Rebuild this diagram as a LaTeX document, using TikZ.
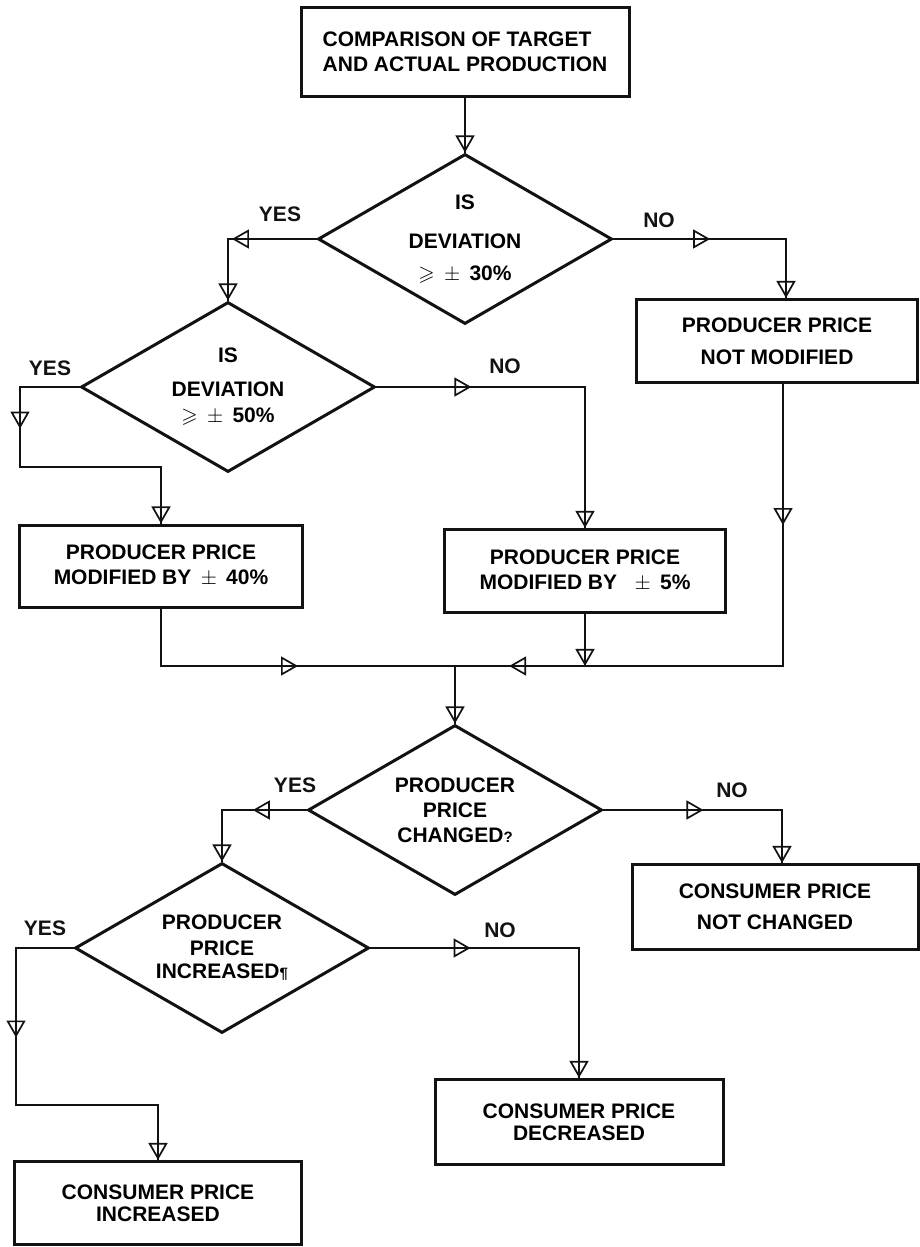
\documentclass[tikz,border=0pt]{standalone}
\usepackage{fontspec}
\setmainfont{Liberation Sans}
\usepackage{amssymb}
\usetikzlibrary{shapes.geometric,arrows.meta,decorations.markings}
\usepackage{xcolor}
\definecolor{ink}{RGB}{18,18,18}

\tikzset{
  chartfont/.style={font=\fontsize{21}{22}\selectfont\bfseries},
  box/.style={draw=ink,line width=3pt,minimum width=#1,minimum height=84pt,
    inner sep=0pt,align=center,chartfont},
  box/.default=284pt,
  decision/.style={diamond,draw=ink,line width=3pt,aspect=1.73,
    minimum width=294pt,minimum height=170pt,inner sep=0pt,align=center,chartfont},
  answer/.style={text=ink,inner sep=0pt,chartfont},
  flow/.style={draw=ink,line width=1.7pt,line cap=rect},
  tipat/.style={postaction={decorate,decoration={markings,
    mark=at position #1 with {\arrow{>}}}}}
}

\begin{document}
\begin{tikzpicture}[x=1pt,y=-1pt,
  >={Triangle[open,length=17pt,width=19pt,line width=1.7pt]}]
  % --- canvas ---
  \fill[white] (0,0) rectangle (919,1247);
  \useasboundingbox (0,0) rectangle (919,1247);

  % --- boxes ---
  \node[box=328pt,minimum height=89pt,align=left] (start) at (465,52)
    {COMPARISON OF TARGET\\[3pt]AND ACTUAL PRODUCTION};
  \node[box=281pt,minimum height=83pt] (keep) at (777,341)
    {PRODUCER PRICE\\[10pt]NOT MODIFIED};
  \node[box=283pt,minimum height=82pt] (mod40) at (161,566)
    {PRODUCER PRICE\\[3pt]MODIFIED BY \,$\pm$\, 40\%};
  \node[box=281pt,minimum height=83pt] (mod5) at (585,571)
    {PRODUCER PRICE\\[3pt]MODIFIED BY \ \ $\pm$\, 5\%};
  \node[box=286pt,minimum height=85pt] (same) at (775,907)
    {CONSUMER PRICE\\[9pt]NOT CHANGED};
  \node[box=287pt,minimum height=83pt] (up) at (158,1203)
    {CONSUMER PRICE\\INCREASED};
  \node[box=288pt,minimum height=85pt] (down) at (579,1122)
    {CONSUMER PRICE\\DECREASED};

  % --- decisions ---
  \node[decision] (dev30) at (465,239)
    {IS\\[17pt]DEVIATION\\[10pt]$\geqslant$ \,$\pm$\, 30\%};
  \node[decision] (dev50) at (228,387)
    {IS\\[12pt]DEVIATION\\[4pt]$\geqslant$ \,$\pm$\, 50\%};
  \node[decision] (chg) at (455,810)
    {PRODUCER\\[3pt]PRICE\\[3pt]CHANGED{\fontsize{15}{15}\selectfont ?}};
  \node[decision] (inc) at (222,948)
    {PRODUCER\\[4pt]PRICE\\[1pt]INCREASED{\fontsize{15}{15}\selectfont ¶}};

  % --- yes / no labels ---
  \foreach \nm/\x/\y/\txt in {yesA/280/214/YES, noA/659/220/NO,
      yesB/50/368/YES, noB/505/366/NO, yesC/295/785/YES,
      noC/732/790/NO, yesD/45/928/YES, noD/500/930/NO}{
    \node[answer] (\nm) at (\x,\y) {\txt};
  }

  % --- bends ---
  \coordinate (c30w) at (dev50.north |- dev30.west);
  \coordinate (c30e) at (786,239);
  \coordinate (c50w) at (20,387);
  \coordinate (c50s) at (20,467);
  \coordinate (c50e) at (mod5.north |- dev50.east);
  \coordinate (mrgE) at (783,666);
  \coordinate (mrg) at (chg.north |- mrgE);
  \coordinate (cchgE) at (782,810);
  \coordinate (cchgW) at (inc.north |- chg.west);
  \coordinate (cincW) at (16,948);
  \coordinate (cincS) at (16,1105);
  \coordinate (cincE) at (down.north |- inc.east);

  % --- first test ---
  \draw[flow,tipat=0.999] (start.south) -- (dev30.north);
  \draw[flow,tipat=0.955] (dev30.west) -- (c30w);
  \draw[flow,tipat=0.999] (c30w) -- (dev50.north);
  \draw[flow,tipat=0.56] (dev30.east) -- (c30e);
  \draw[flow,tipat=0.999] (c30e) -- (keep.north -| c30e);

  % --- second test ---
  \draw[flow] (dev50.west) -- (c50w);
  \draw[flow,tipat=0.52] (c50w) -- (c50s);
  \draw[flow] (c50s) -- (mod40.north |- c50s);
  \draw[flow,tipat=0.999] (mod40.north |- c50s) -- (mod40.north);
  \draw[flow,tipat=0.455] (dev50.east) -- (c50e);
  \draw[flow,tipat=0.999] (c50e) -- (mod5.north);

  % --- merge of the three prices ---
  \draw[flow,tipat=0.5] (keep.south -| mrgE) -- (mrgE);
  \draw[flow,tipat=0.835] (mrgE) -- (mrg);
  \draw[flow] (mod40.south) -- (mod40.south |- mrg);
  \draw[flow,tipat=0.466] (mod40.south |- mrg) -- (mrg);
  \draw[flow,tipat=0.999] (mod5.south) -- (mod5.south |- mrg);
  \draw[flow,tipat=0.999] (mrg) -- (chg.north);

  % --- price changed? ---
  \draw[flow,tipat=0.56] (chg.east) -- (cchgE);
  \draw[flow,tipat=0.999] (cchgE) -- (same.north -| cchgE);
  \draw[flow,tipat=0.635] (chg.west) -- (cchgW);
  \draw[flow,tipat=0.999] (cchgW) -- (inc.north);

  % --- price increased? ---
  \draw[flow] (inc.west) -- (cincW);
  \draw[flow,tipat=0.57] (cincW) -- (cincS);
  \draw[flow] (cincS) -- (up.north |- cincS);
  \draw[flow,tipat=0.999] (up.north |- cincS) -- (up.north);
  \draw[flow,tipat=0.48] (inc.east) -- (cincE);
  \draw[flow,tipat=0.999] (cincE) -- (down.north);

\end{tikzpicture}
\end{document}
